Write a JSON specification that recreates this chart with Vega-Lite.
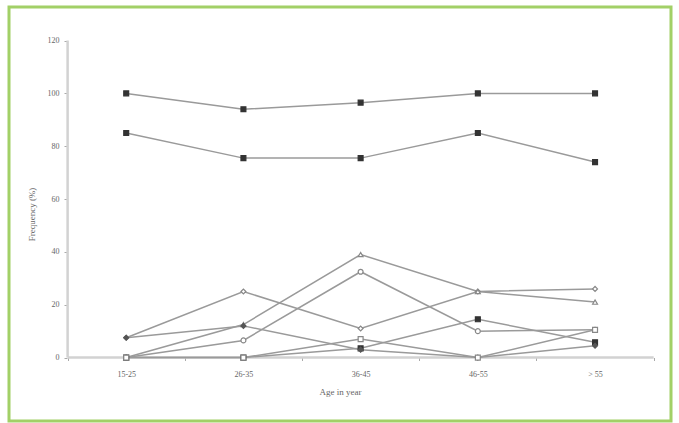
{
  "$schema": "https://vega.github.io/schema/vega-lite/v6.json",
  "width": 662,
  "height": 414,
  "autosize": {"type": "none"},
  "padding": {"left": 9, "top": 7, "right": 8, "bottom": 2},
  "background": "white",
  "config": {
    "view": {"stroke": "#a2d067", "strokeWidth": 3},
    "font": "Liberation Serif",
    "axis": {"labelFont": "Liberation Serif", "titleFont": "Liberation Serif", "labelColor": "#666666", "titleColor": "#666666", "labelFontSize": 8, "titleFontSize": 9, "titleFontWeight": "normal", "tickColor": "#aaaaaa", "grid": false}
  },
  "resolve": {"axis": {"x": "independent", "y": "independent"}},
  "data": {"values": [
    {"series": "S1", "age": 1, "freq": 100}, {"series": "S1", "age": 2, "freq": 94}, {"series": "S1", "age": 3, "freq": 96.5}, {"series": "S1", "age": 4, "freq": 100}, {"series": "S1", "age": 5, "freq": 100},
    {"series": "S2", "age": 1, "freq": 85}, {"series": "S2", "age": 2, "freq": 75.5}, {"series": "S2", "age": 3, "freq": 75.5}, {"series": "S2", "age": 4, "freq": 85}, {"series": "S2", "age": 5, "freq": 74},
    {"series": "S3", "age": 1, "freq": 7.5}, {"series": "S3", "age": 2, "freq": 25}, {"series": "S3", "age": 3, "freq": 11}, {"series": "S3", "age": 4, "freq": 25}, {"series": "S3", "age": 5, "freq": 26},
    {"series": "S4", "age": 1, "freq": 0}, {"series": "S4", "age": 2, "freq": 12.5}, {"series": "S4", "age": 3, "freq": 39}, {"series": "S4", "age": 4, "freq": 25}, {"series": "S4", "age": 5, "freq": 21},
    {"series": "S5", "age": 1, "freq": 0}, {"series": "S5", "age": 2, "freq": 6.5}, {"series": "S5", "age": 3, "freq": 32.5}, {"series": "S5", "age": 4, "freq": 10}, {"series": "S5", "age": 5, "freq": 10.5},
    {"series": "S6", "age": 1, "freq": 0}, {"series": "S6", "age": 2, "freq": 0}, {"series": "S6", "age": 3, "freq": 3.5}, {"series": "S6", "age": 4, "freq": 14.5}, {"series": "S6", "age": 5, "freq": 5.8},
    {"series": "S7", "age": 1, "freq": 7.5}, {"series": "S7", "age": 2, "freq": 12}, {"series": "S7", "age": 3, "freq": 3}, {"series": "S7", "age": 4, "freq": 0}, {"series": "S7", "age": 5, "freq": 4.5},
    {"series": "S8", "age": 1, "freq": 0}, {"series": "S8", "age": 2, "freq": 0}, {"series": "S8", "age": 3, "freq": 7}, {"series": "S8", "age": 4, "freq": 0}, {"series": "S8", "age": 5, "freq": 10.5}
  ]},
  "layer": [
    {
      "data": {"values": [{"axis": "y"}]},
      "mark": {"type": "rule", "color": "#d2d2d2", "strokeWidth": 2.5},
      "encoding": {
        "x": {"datum": 0.5, "type": "quantitative", "scale": {"domain": [0, 5.648], "nice": false, "zero": false}, "axis": null},
        "y": {"datum": 0, "type": "quantitative", "scale": {"domain": [-24, 132.7], "nice": false, "zero": false},
              "axis": {"orient": "left", "values": [0, 20, 40, 60, 80, 100, 120], "offset": -58, "domain": false, "tickSize": 3, "labelPadding": 5, "title": "Frequency (%)", "titlePadding": 11}},
        "y2": {"datum": 120}
      }
    },
    {
      "data": {"values": [{"axis": "x"}]},
      "mark": {"type": "rule", "color": "#d2d2d2", "strokeWidth": 2.5},
      "encoding": {
        "x": {"datum": 0.5, "type": "quantitative", "axis": {"orient": "bottom", "values": [0.5, 1.5, 2.5, 3.5, 4.5, 5.5], "offset": -63.5, "domain": false, "labels": false, "tickSize": 3, "title": null}},
        "x2": {"datum": 5.5},
        "y": {"datum": 0, "type": "quantitative", "axis": null}
      }
    },
    {
      "mark": {"type": "line", "color": "#9a9a9a", "strokeWidth": 1.5},
      "encoding": {
        "x": {"field": "age", "type": "quantitative", "axis": {"orient": "bottom", "values": [1, 2, 3, 4, 5], "labelExpr": "['', '15-25', '26-35', '36-45', '46-55', '> 55'][datum.value]", "offset": -63.5, "domain": false, "ticks": false, "labelPadding": 13, "title": "Age in year", "titlePadding": 9}},
        "y": {"field": "freq", "type": "quantitative", "axis": null},
        "detail": {"field": "series"}
      }
    },
    {
      "mark": {"type": "point", "size": 24, "strokeWidth": 1.2, "opacity": 1},
      "encoding": {
        "x": {"field": "age", "type": "quantitative", "axis": null},
        "y": {"field": "freq", "type": "quantitative", "axis": null},
        "shape": {"field": "series", "type": "nominal", "legend": null,
                  "scale": {"domain": ["S1", "S2", "S3", "S4", "S5", "S6", "S7", "S8"], "range": ["square", "square", "diamond", "triangle-up", "circle", "square", "diamond", "square"]}},
        "fill": {"field": "series", "type": "nominal", "legend": null,
                 "scale": {"domain": ["S1", "S2", "S3", "S4", "S5", "S6", "S7", "S8"], "range": ["#333333", "#333333", "#ffffff", "#ffffff", "#ffffff", "#333333", "#555555", "#ffffff"]}},
        "stroke": {"field": "series", "type": "nominal", "legend": null,
                   "scale": {"domain": ["S1", "S2", "S3", "S4", "S5", "S6", "S7", "S8"], "range": ["#333333", "#333333", "#888888", "#888888", "#888888", "#333333", "#555555", "#888888"]}}
      }
    }
  ]
}
